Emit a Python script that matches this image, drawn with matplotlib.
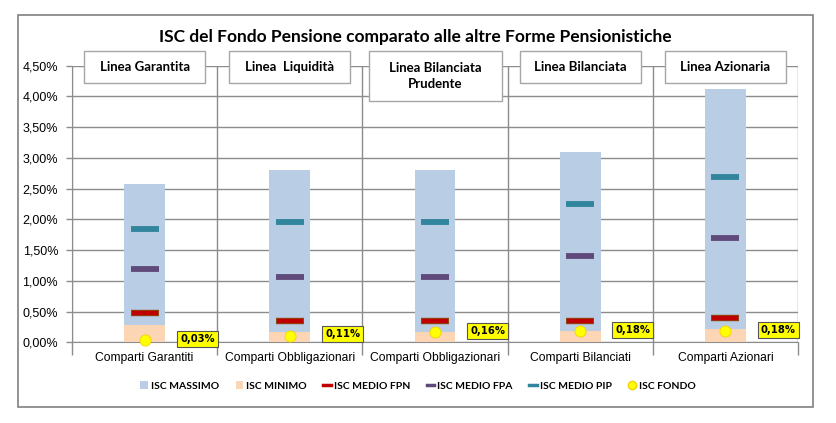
import numpy as np
import matplotlib
matplotlib.use("Agg")
import matplotlib.pyplot as plt
from matplotlib.patches import Rectangle
from matplotlib.lines import Line2D
from matplotlib.ticker import FuncFormatter

# data (values in %)
categories = ["Comparti Garantiti", "Comparti Obbligazionari", "Comparti Obbligazionari",
              "Comparti Bilanciati", "Comparti Azionari"]
headers = ["Linea Garantita", "Linea  Liquidità", "Linea Bilanciata\nPrudente",
           "Linea Bilanciata", "Linea Azionaria"]
isc_massimo = [2.58, 2.80, 2.80, 3.10, 4.12]
isc_minimo = [0.28, 0.16, 0.16, 0.19, 0.21]
isc_medio_fpn = [0.47, 0.34, 0.34, 0.34, 0.39]
isc_medio_fpa = [1.20, 1.07, 1.07, 1.41, 1.70]
isc_medio_pip = [1.85, 1.96, 1.96, 2.25, 2.69]
isc_fondo = [0.03, 0.11, 0.16, 0.18, 0.18]

c_max = "#B9CDE5"
c_min = "#FCD5B5"
c_fpn = "#C00000"
c_fpa = "#604A7B"
c_pip = "#31859C"
c_fondo = "#FFFF00"
grid_c = "#8C8C8C"

fig = plt.figure(figsize=(8.37, 4.23), dpi=100)
W, H = 837, 423
ax_l, ax_r, ax_b, ax_t = 72 / W, 798 / W, 1 - 342.3 / H, 1 - 65.7 / H
ax = fig.add_axes([ax_l, ax_b, ax_r - ax_l, ax_t - ax_b])

x = np.arange(len(categories))
bw = 0.28
ax.bar(x, isc_massimo, width=bw, color=c_max, zorder=2)
ax.bar(x, isc_minimo, width=bw, color=c_min, zorder=3)

ax.plot(x, isc_medio_fpn, ls="none", marker="_", ms=20.5, mew=4.6, color="#8B4A10", zorder=4)
ax.plot(x, isc_medio_fpn, ls="none", marker="_", ms=19, mew=3.2, color=c_fpn, zorder=5)
ax.plot(x, isc_medio_fpa, ls="none", marker="_", ms=19.5, mew=4.2, color=c_fpa, zorder=4)
ax.plot(x, isc_medio_pip, ls="none", marker="_", ms=19.5, mew=4.2, color=c_pip, zorder=4)
ax.plot(x, isc_fondo, ls="none", marker="o", ms=8, mfc=c_fondo, mec="#F2D200", mew=0.6, zorder=6,
        clip_on=False)

for xi, v in zip(x, isc_fondo):
    ax.annotate(("%.2f%%" % v).replace(".", ","), (xi, v), xytext=(38, 1),
                textcoords="offset points", ha="center", va="center",
                fontsize=7.2, fontweight="bold", family="DejaVu Sans",
                bbox=dict(boxstyle="square,pad=0.3", fc=c_fondo, ec="#555555", lw=0.8),
                zorder=7, annotation_clip=False)

ax.set_xlim(-0.5, len(categories) - 0.5)
ax.set_ylim(0, 4.5)
ax.set_yticks(np.arange(0, 4.51, 0.5))
ax.yaxis.set_major_formatter(FuncFormatter(lambda v, p: ("%.2f%%" % v).replace(".", ",")))
ax.set_xticks(x)
ax.set_xticklabels(categories, fontsize=8.7, family="Liberation Sans")
ax.set_xticks(np.arange(-0.5, len(categories)), minor=True)
ax.tick_params(axis="x", which="major", length=0, pad=7)
ax.tick_params(axis="x", which="minor", length=9, color=grid_c, width=1)
ax.tick_params(axis="y", length=4, color=grid_c, width=1, labelsize=9, pad=6)
for lab in ax.get_yticklabels():
    lab.set_family("Liberation Sans")
ax.grid(axis="y", color=grid_c, lw=1, zorder=0)
ax.grid(axis="x", which="minor", color=grid_c, lw=1, zorder=0)
for s in ["top", "right"]:
    ax.spines[s].set_visible(False)
for s in ["left", "bottom"]:
    ax.spines[s].set_color(grid_c)
ax.set_axisbelow(True)

# outer border
fig.add_artist(Rectangle((18 / W, 1 - 407 / H), (813 - 18) / W, (407 - 15) / H,
                         transform=fig.transFigure, fill=False, ec="#808080", lw=1.2))

fig.text(415 / W, 1 - 37 / H, "ISC del Fondo Pensione comparato alle altre Forme Pensionistiche",
         ha="center", va="center", fontsize=12.5, fontweight="bold", family="Lato")

# header boxes
for i, h in enumerate(headers):
    cx = ax_l + (i + 0.5) / len(headers) * (ax_r - ax_l)
    two = "\n" in h
    bwid = (133 if two else 121) / W
    top = 1 - 51 / H
    bh = (50 if two else 32) / H
    fig.add_artist(Rectangle((cx - bwid / 2, top - bh), bwid, bh, transform=fig.transFigure,
                             fc="white", ec="#A6A6A6", lw=1, zorder=5))
    fig.text(cx, top - bh / 2, h, ha="center", va="center", fontsize=9.5,
             fontweight="bold", family="Lato", linespacing=1.3, zorder=6)

handles = [
    Rectangle((0, 0), 1, 1, fc=c_max),
    Rectangle((0, 0), 1, 1, fc=c_min),
    Line2D([], [], color=c_fpn, lw=2.5),
    Line2D([], [], color=c_fpa, lw=2.5),
    Line2D([], [], color=c_pip, lw=2.5),
    Line2D([], [], ls="none", marker="o", ms=6, mfc=c_fondo, mec="#F2D200"),
]
labels = ["ISC MASSIMO", "ISC MINIMO", "ISC MEDIO FPN", "ISC MEDIO FPA", "ISC MEDIO PIP", "ISC FONDO"]
fig.legend(handles, labels, loc="center", bbox_to_anchor=(418 / W, 1 - 386 / H), ncol=6,
           frameon=False, prop=dict(family="Lato", weight="bold", size=7.5),
           handlelength=0.7, handleheight=0.7, handletextpad=0.3, columnspacing=1.6)

fig.savefig("out.png", dpi=100)
